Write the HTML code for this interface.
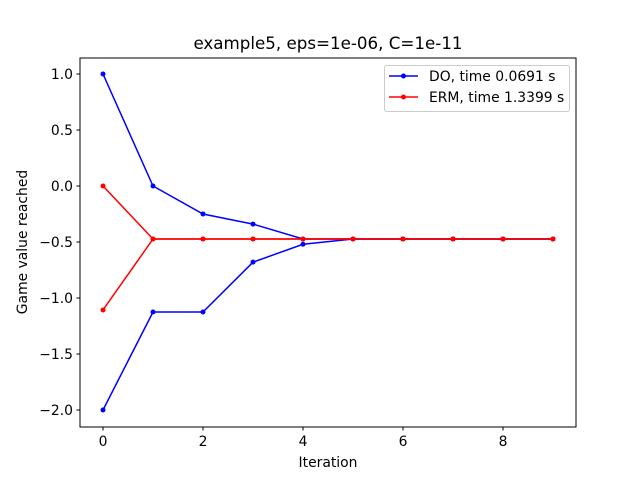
<!DOCTYPE html>
<html><head><meta charset="utf-8"><style>body{margin:0;background:#fff}svg{font-family:"DejaVu Sans","Liberation Sans",sans-serif}</style></head>
<body>
<svg id="chart" width="640" height="480">
<rect x="0" y="0" width="640" height="480" fill="#fff"/>
<text x="328" y="49" font-size="16.7" text-anchor="middle">example5, eps=1e-06, C=1e-11</text>
<g id="ticks"></g>
<g id="lines"></g>
<rect x="80" y="58" width="496" height="369" fill="none" stroke="#000" stroke-width="1"/>
<text x="328" y="467" font-size="13.9" text-anchor="middle">Iteration</text>
<text x="27" y="242" font-size="13.9" text-anchor="middle" transform="rotate(-90 27 242)">Game value reached</text>
<g>
<rect x="384.5" y="65.5" width="185" height="46" rx="2" fill="#fff" stroke="#ccc"/>
<g><line x1="389" y1="76" x2="418" y2="76" stroke="#0000ff" stroke-width="1.5"/><circle cx="403.5" cy="76" r="2.5" fill="#0000ff"/><text x="429" y="81" font-size="13.9">DO, time 0.0691 s</text></g>
<g><line x1="389" y1="97" x2="418" y2="97" stroke="#ff0000" stroke-width="1.5"/><circle cx="403.5" cy="97" r="2.5" fill="#ff0000"/><text x="429" y="102" font-size="13.9">ERM, time 1.3399 s</text></g>
</g>
</svg>
<script>
const iterations=[0,1,2,3,4,5,6,7,8,9];
const doUpper=[1.0,0.0,-0.25,-0.34,-0.473,-0.473,-0.473,-0.473,-0.473,-0.473];
const doLower=[-2.0,-1.125,-1.125,-0.68,-0.52,-0.473,-0.473,-0.473,-0.473,-0.473];
const ermUpper=[0.0,-0.473,-0.473,-0.473,-0.473,-0.473,-0.473,-0.473,-0.473,-0.473];
const ermLower=[-1.107,-0.473,-0.473,-0.473,-0.473,-0.473,-0.473,-0.473,-0.473,-0.473];
const xTicks=[0,2,4,6,8];
const yTicks=[1.0,0.5,0.0,-0.5,-1.0,-1.5,-2.0];
const NS="http://www.w3.org/2000/svg";
const xs=v=>103+v*50, ys=v=>186-v*112;
function mk(t,a,p){const e=document.createElementNS(NS,t);for(const k in a)e.setAttribute(k,a[k]);p.appendChild(e);return e;}
const tg=document.getElementById('ticks');
xTicks.forEach(v=>{const g=mk('g',{},tg);


mk('line',{x1:xs(v),x2:xs(v),y1:427,y2:430.5,stroke:'#000'},g);
const t=mk('text',{x:xs(v),y:446,'font-size':13.9,'text-anchor':'middle'},g);t.textContent=v;});
yTicks.forEach(v=>{const g=mk('g',{},tg);


mk('line',{x1:76.5,x2:80,y1:ys(v),y2:ys(v),stroke:'#000'},g);
const t=mk('text',{x:73,y:ys(v)+5,'font-size':13.9,'text-anchor':'end'},g);t.textContent=(v<0?'\u2212':'')+Math.abs(v).toFixed(1);});
const lg=document.getElementById('lines');
[[doUpper,'#0000ff','do-upper-line'],[doLower,'#0000ff','do-lower-line'],[ermUpper,'#ff0000','erm-upper-line'],[ermLower,'#ff0000','erm-lower-line']].forEach(([d,c,n])=>{
const g=mk('g',{},lg);


mk('polyline',{points:d.map((v,i)=>xs(iterations[i])+','+ys(v)).join(' '),fill:'none',stroke:c,'stroke-width':1.5},g);
d.forEach((v,i)=>{const p=mk('circle',{cx:xs(iterations[i]),cy:ys(v),r:2.5,fill:c},g);

});
});
</script>
</body></html>
